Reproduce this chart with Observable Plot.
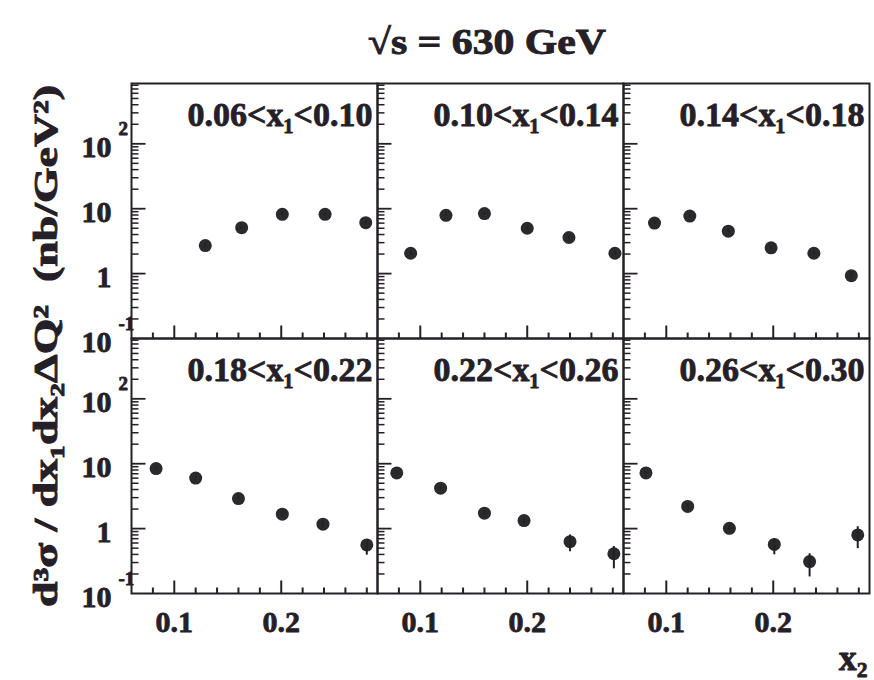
<!DOCTYPE html>
<html><head><meta charset="utf-8">
<script src="https://cdn.jsdelivr.net/npm/d3@7"></script>
<script src="https://cdn.jsdelivr.net/npm/@observablehq/plot@0.6"></script>
<style>
body{margin:0;background:#fff}
#chart{width:874px;height:680px;position:relative}
#chart svg{position:absolute;left:0;top:0}
</style>
</head><body><div id="chart"></div>
<script>
// ---- data ----
const titleText = "√s = 630 GeV";
const yAxisTitle = "d³σ / dx₁dx₂ΔQ²  (nb/GeV²)";
const xAxisTitle = "x₂";
const panelLabels = ["0.06<x₁<0.10", "0.10<x₁<0.14", "0.14<x₁<0.18",
                     "0.18<x₁<0.22", "0.22<x₁<0.26", "0.26<x₁<0.30"];
const panelCols = [0, 1, 2, 0, 1, 2];
const panelRows = [0, 0, 0, 1, 1, 1];
const x2Values = [
  [0.129, 0.163, 0.201, 0.241, 0.279],
  [0.091, 0.124, 0.160, 0.200, 0.239, 0.282],
  [0.089, 0.122, 0.158, 0.198, 0.238, 0.273],
  [0.083, 0.120, 0.160, 0.201, 0.239, 0.280],
  [0.078, 0.119, 0.160, 0.197, 0.240, 0.281],
  [0.081, 0.120, 0.159, 0.201, 0.234, 0.279]
];
const sigmaValues = [
  [2.7, 5.1, 8.2, 8.2, 6.1],
  [2.06, 7.9, 8.4, 5.0, 3.6, 2.06],
  [6.0, 7.7, 4.5, 2.5, 2.06, 0.93],
  [8.4, 6.0, 2.9, 1.67, 1.17, 0.56],
  [7.2, 4.2, 1.73, 1.33, 0.63, 0.41],
  [7.2, 2.2, 1.01, 0.57, 0.31, 0.80]
];
const sigmaLow = [
  [2.5, 4.8, 7.8, 7.8, 5.7],
  [1.9, 7.5, 8.0, 4.7, 3.35, 1.9],
  [5.7, 7.3, 4.25, 2.35, 1.9, 0.82],
  [8.0, 5.7, 2.7, 1.55, 1.05, 0.39],
  [6.8, 3.95, 1.6, 1.2, 0.44, 0.24],
  [6.8, 2.05, 0.93, 0.395, 0.18, 0.49]
];
const sigmaHigh = [
  [2.9, 5.4, 8.6, 8.6, 6.5],
  [2.2, 8.3, 8.8, 5.3, 3.85, 2.2],
  [6.3, 8.1, 4.75, 2.65, 2.2, 1.05],
  [8.8, 6.3, 3.1, 1.8, 1.3, 0.67],
  [7.6, 4.45, 1.86, 1.46, 0.8, 0.53],
  [7.6, 2.35, 1.1, 0.7, 0.41, 1.07]
];
const yMajorTicks = [1, 10, 100];
const yMinorTicks = [0.2, 0.3, 0.4, 0.5, 0.6, 0.7, 0.8, 0.9,
                     2, 3, 4, 5, 6, 7, 8, 9,
                     20, 30, 40, 50, 60, 70, 80, 90,
                     200, 300, 400, 500, 600, 700, 800];
const xMajorTicks = [0.1, 0.2];
const xMinorTicks = [0.08, 0.12, 0.14, 0.16, 0.18, 0.22, 0.24, 0.26, 0.28];
const yTickValues = [100, 10, 1, 0.1];
const yTickBases = ["10", "10", "1", "10"];
const yTickExps = ["2", "", "", "-1"];
const xTickValues = [0.1, 0.2];
const xTickTexts = ["0.1", "0.2"];

// ---- tables built from the arrays ----
const points = [];
x2Values.forEach((xs, p) => xs.forEach((x, i) => points.push({
  col: panelCols[p], row: panelRows[p], x,
  y: sigmaValues[p][i], lo: sigmaLow[p][i], hi: sigmaHigh[p][i]
})));
const panels = panelLabels.map((label, p) => ({col: panelCols[p], row: panelRows[p], label}));
const perPanel = ticks => {
  const out = [];
  panelCols.forEach((col, p) => ticks.forEach(v => out.push({col, row: panelRows[p], v})));
  return out;
};
const yMinorData = perPanel(yMinorTicks);
const yMajorData = perPanel(yMajorTicks);
const xMinorData = perPanel(xMinorTicks);
const xMajorData = perPanel(xMajorTicks);
const yLabels = [];
[0, 1].forEach(row => yTickValues.forEach((v, i) =>
  yLabels.push({col: 0, row, v, base: yTickBases[i], exp: yTickExps[i]})));
const xLabels = [];
[0, 1, 2].forEach(col => xTickValues.forEach((v, i) =>
  xLabels.push({col, row: 1, v, text: xTickTexts[i]})));
const xTitle = [{col: 2, row: 1, text: xAxisTitle}];

const ink = "#252027";
const serif = "'Liberation Serif', 'Times New Roman', serif";
const rightTick = len => ({draw(c) { c.moveTo(0, 0); c.lineTo(len, 0); }});
const upTick = len => ({draw(c) { c.moveTo(0, 0); c.lineTo(0, -len); }});
const boldText = {fontWeight: "bold", fill: ink, stroke: ink, strokeWidth: 0.8, fontFamily: serif};

const layout = {
  width: 874, height: 680,
  marginLeft: 130, marginRight: 4, marginTop: 83, marginBottom: 87,
  fx: {domain: [0, 1, 2], padding: 0, axis: null},
  fy: {domain: [0, 1], padding: 0, axis: null},
  x: {type: "linear", domain: [0.06, 0.29], axis: null},
  y: {type: "log", domain: [0.1, 850], axis: null}
};

// base layer: ticks, frames and data points
const base = Plot.plot({
  ...layout,
  style: {background: "#fff", fontFamily: serif},
  marks: [
    Plot.dot(yMinorData, {fx: "col", fy: "row", y: "v", frameAnchor: "left", symbol: rightTick(7), r: 3, fill: "none", stroke: ink, strokeWidth: 1.5}),
    Plot.dot(yMajorData, {fx: "col", fy: "row", y: "v", frameAnchor: "left", symbol: rightTick(14), r: 3, fill: "none", stroke: ink, strokeWidth: 1.8}),
    Plot.dot(xMinorData, {fx: "col", fy: "row", x: "v", frameAnchor: "bottom", symbol: upTick(6), r: 3, fill: "none", stroke: ink, strokeWidth: 2}),
    Plot.dot(xMajorData, {fx: "col", fy: "row", x: "v", frameAnchor: "bottom", symbol: upTick(13), r: 3, fill: "none", stroke: ink, strokeWidth: 2}),
    Plot.frame({stroke: ink, strokeWidth: 2}),
    Plot.dot(points, {fx: "col", fy: "row", x: "x", y: "y", r: 6.5, fill: "#2a2a2c", stroke: "none"})
  ]
});

// overlay layer: error bars and all texts, same scales
const over = Plot.plot({
  ...layout,
  style: {background: "transparent", fontFamily: serif},
  marks: [
    Plot.ruleX(points, {fx: "col", fy: "row", x: "x", y1: "lo", y2: "hi", stroke: ink, strokeWidth: 2}),
    Plot.text(panels, {fx: "col", fy: "row", text: "label", frameAnchor: "top-right", dx: -5, dy: 32,
      textAnchor: "end", lineAnchor: "middle", fontSize: 34, ...boldText}),
    Plot.text(yLabels, {fx: "col", fy: "row", y: "v", text: "base", frameAnchor: "left", dx: -20, dy: 4,
      textAnchor: "end", lineAnchor: "middle", fontSize: 30, ...boldText}),
    Plot.text(yLabels, {fx: "col", fy: "row", y: "v", text: "exp", frameAnchor: "left", dx: -13, dy: -15,
      textAnchor: "start", lineAnchor: "middle", fontSize: 19, ...boldText}),
    Plot.text(xLabels, {fx: "col", fy: "row", x: "v", text: "text", frameAnchor: "bottom", dy: 29,
      textAnchor: "middle", lineAnchor: "middle", fontSize: 30, ...boldText}),
    Plot.text(xTitle, {fx: "col", fy: "row", text: "text", frameAnchor: "bottom-right", dx: -2, dy: 65,
      textAnchor: "end", lineAnchor: "middle", fontSize: 36, ...boldText})
  ]
});

const svg = d3.select(over);
svg.append("text")
  .attr("x", 487).attr("y", 54)
  .attr("text-anchor", "middle")
  .attr("font-family", serif).attr("font-weight", "bold").attr("font-size", 36)
  .attr("fill", ink).attr("stroke", ink).attr("stroke-width", 0.9)
  .attr("textLength", 238).attr("lengthAdjust", "spacingAndGlyphs")
  .text(titleText);
svg.append("text")
  .attr("transform", "translate(57,346) rotate(-90)")
  .attr("text-anchor", "middle")
  .attr("font-family", serif).attr("font-weight", "bold").attr("font-size", 33)
  .attr("fill", ink).attr("stroke", ink).attr("stroke-width", 0.9)
  .attr("textLength", 522).attr("lengthAdjust", "spacingAndGlyphs")
  .text(yAxisTitle);

const holder = document.getElementById("chart");
holder.appendChild(base);
holder.appendChild(over);
</script>
</body></html>
